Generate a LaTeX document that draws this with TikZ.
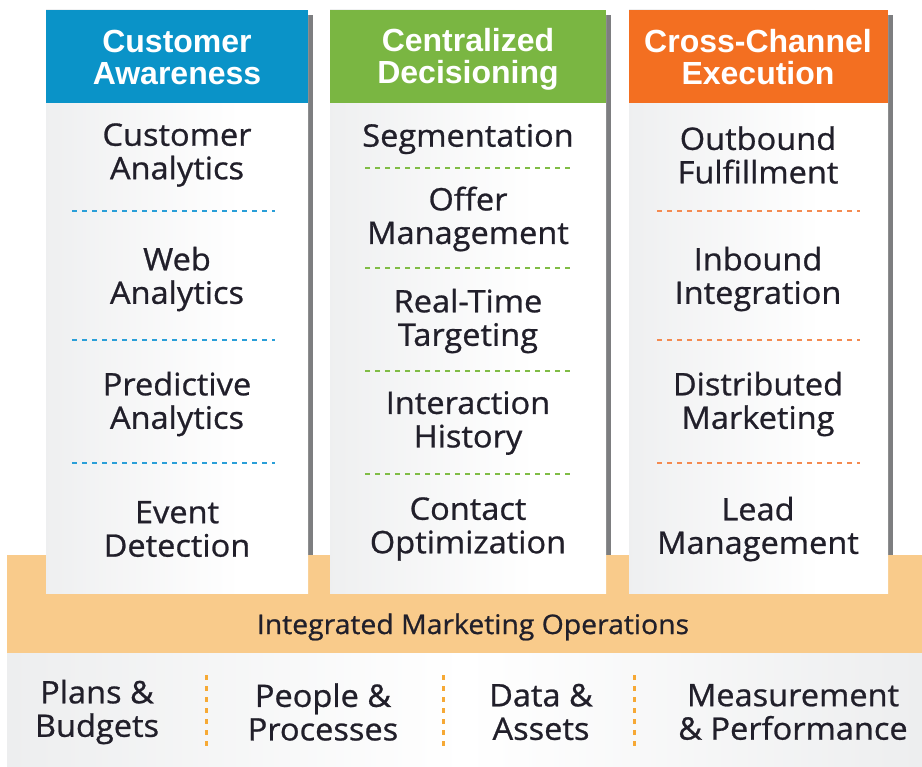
\documentclass[tikz,border=0pt]{standalone}
\usepackage{fontspec}
\setmainfont{Open Sans}[FakeBold=0.8,FakeStretch=1.05]
\newfontfamily\headfont{Liberation Sans}
\definecolor{cblue}{HTML}{0A93C8}
\definecolor{cgreen}{HTML}{7AB642}
\definecolor{corange}{HTML}{F36F21}
\definecolor{dblue}{HTML}{2A9FD8}
\definecolor{dgreen}{HTML}{80BC45}
\definecolor{dorange}{HTML}{F48A50}
\definecolor{band}{HTML}{F9CB8B}
\definecolor{sep}{HTML}{F6A935}
\definecolor{sgray}{HTML}{C5C6C8}
\definecolor{smid}{HTML}{EDEEEF}
\definecolor{shadowc}{HTML}{7D7E80}
\definecolor{txt}{HTML}{211F2A}
\pgfdeclarehorizontalshading{colshade}{100bp}{color(0bp)=(sgray); color(22bp)=(smid); color(62bp)=(white); color(82bp)=(white); color(100bp)=(sgray)}
\pgfdeclarehorizontalshading{botshade}{100bp}{color(0bp)=(sgray); color(25bp)=(smid); color(50bp)=(white); color(75bp)=(smid); color(100bp)=(sgray)}
\tikzset{
  headtxt/.style={font=\headfont\bfseries\fontsize{32}{32}\selectfont, text=white, align=center, inner sep=0pt},
  bodytxt/.style={font=\fontsize{31}{33.5}\selectfont, text=txt, align=center, inner sep=0pt},
  bandtxt/.style={font=\fontsize{27}{30}\selectfont, text=txt, align=center, inner sep=0pt},
  colbody/.style={shading=colshade},
  shadowbox/.style={fill=shadowc},
  sepline/.style={line width=2.6pt, dash pattern=on 5pt off 5pt},
  vsep/.style={sep, line width=3pt, dash pattern=on 5pt off 6pt}
}
\begin{document}
\begin{tikzpicture}[x=1pt,y=-1pt]
\useasboundingbox (0,0) rectangle (922,767);
\fill[white] (0,0) rectangle (922,767);
% shadows
\fill[shadowbox] (51,15) rectangle (313,560);
\fill[shadowbox] (335,15) rectangle (611,560);
\fill[shadowbox] (634,15) rectangle (893,560);
% bands
\fill[band] (7,555) rectangle (922,653);
\shade[shading=botshade] (7,653) rectangle (922,767);
% columns
\shade[colbody] (46,10) rectangle (308,593);
\shade[colbody] (330,10) rectangle (606,593);
\shade[colbody] (629,10) rectangle (888,593);
\fill[cblue] (46,10) rectangle (308,103);
\fill[cgreen] (330,10) rectangle (606,103);
\fill[corange] (629,10) rectangle (888,103);
% headers
\node[headtxt] (h1) at (177,57) {Customer\\Awareness};
\node[headtxt] (h2) at (468,59) {Centralized\\Decisioning};
\node[headtxt] (h3) at (758,57) {Cross-Channel\\Execution};
% column 1
\node[bodytxt] (a1) at (177,155) {Customer\\Analytics};
\node[bodytxt] (a2) at (177,279) {Web\\Analytics};
\node[bodytxt] (a3) at (177,404) {Predictive\\Analytics};
\node[bodytxt] (a4) at (177,529) {Event\\Detection};
\draw[sepline, dblue] (72,211) -- (275,211);
\draw[sepline, dblue] (72,340) -- (275,340);
\draw[sepline, dblue] (72,463) -- (275,463);
% column 2
\node[bodytxt] (b1) at (468,139) {Segmentation};
\node[bodytxt] (b2) at (468,219) {Offer\\Management};
\node[bodytxt] (b3) at (468,321) {Real-Time\\Targeting};
\node[bodytxt] (b4) at (468,423) {Interaction\\History};
\node[bodytxt] (b5) at (468,529) {Contact\\Optimization};
\draw[sepline, dgreen] (365,168) -- (572,168);
\draw[sepline, dgreen] (365,268) -- (572,268);
\draw[sepline, dgreen] (365,371) -- (572,371);
\draw[sepline, dgreen] (365,474) -- (572,474);
% column 3
\node[bodytxt] (c1) at (758,155) {Outbound\\Fulfillment};
\node[bodytxt] (c2) at (758,279) {Inbound\\Integration};
\node[bodytxt] (c3) at (758,404) {Distributed\\Marketing};
\node[bodytxt] (c4) at (758,529) {Lead\\Management};
\draw[sepline, dorange] (657,211) -- (860,211);
\draw[sepline, dorange] (657,340) -- (860,340);
\draw[sepline, dorange] (657,463) -- (860,463);
% bands text
\node[bandtxt] (imo) at (473,627) {Integrated Marketing Operations};
\node[bodytxt] (p1) at (97,712) {Plans \&\\Budgets};
\node[bodytxt] (p2) at (323,712) {People \&\\Processes};
\node[bodytxt] (p3) at (541,712) {Data \&\\Assets};
\node[bodytxt] (p4) at (793,712) {Measurement\\\& Performance};
\draw[vsep] (206,675) -- (206,750);
\draw[vsep] (443,675) -- (443,750);
\draw[vsep] (634,675) -- (634,750);
\end{tikzpicture}
\end{document}
